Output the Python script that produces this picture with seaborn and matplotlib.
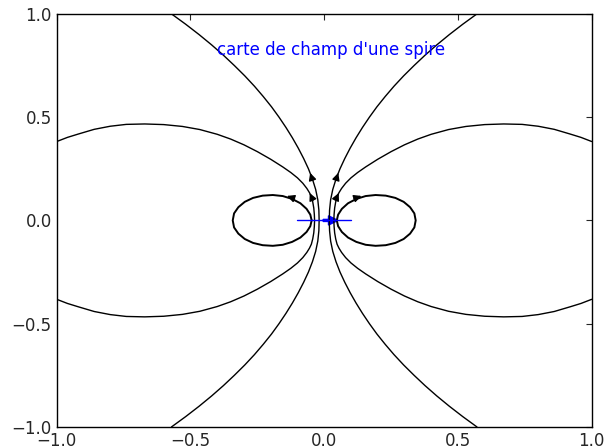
import numpy as np
import pandas as pd
import matplotlib
matplotlib.use("Agg")
import matplotlib.pyplot as plt
import seaborn as sns

# quart supérieur gauche de chaque ligne de champ
# ligne ouverte : du centre vers le haut
open_x = [-0.019, -0.020, -0.024, -0.032, -0.044, -0.059, -0.077, -0.097, -0.119, -0.143, -0.169,
          -0.197, -0.228, -0.261, -0.297, -0.336, -0.377, -0.421, -0.468, -0.518, -0.571]
open_y = [0.000, 0.050, 0.100, 0.150, 0.200, 0.250, 0.300, 0.350, 0.400, 0.450, 0.500,
          0.550, 0.600, 0.650, 0.700, 0.750, 0.800, 0.850, 0.900, 0.950, 1.000]

# grande boucle : du centre vers le bord gauche
big_x = [-0.036, -0.037, -0.039, -0.043, -0.048, -0.055, -0.065, -0.080, -0.100, -0.125, -0.155,
         -0.200, -0.250, -0.300, -0.350, -0.400, -0.465, -0.530, -0.600, -0.671, -0.740, -0.800,
         -0.860, -0.920, -0.960, -1.000]
big_y = [0.000, 0.030, 0.060, 0.090, 0.115, 0.134, 0.155, 0.180, 0.206, 0.232, 0.259,
         0.296, 0.333, 0.366, 0.394, 0.417, 0.440, 0.455, 0.464, 0.467, 0.465, 0.456,
         0.441, 0.418, 0.402, 0.382]

# petite boucle autour du fil : moitié haute, de droite à gauche
small_x = [-0.047, -0.052, -0.066, -0.089, -0.120, -0.155, -0.192, -0.230, -0.266, -0.297,
           -0.321, -0.337, -0.342]
small_y = [0.000, 0.028, 0.056, 0.083, 0.104, 0.118, 0.123, 0.120, 0.109, 0.090, 0.064,
           0.034, 0.000]

# flèches côté gauche : position et direction (le côté droit est le miroir)
arrow_x = [-0.048, -0.048, -0.125]
arrow_y = [0.212, 0.115, 0.112]
arrow_dx = [-0.25, -0.35, -1.0]
arrow_dy = [1.0, 1.0, 0.48]

spire_x = [-0.1, 0.1]
spire_y = [0.0, 0.0]

title = "carte de champ d'une spire"


def full_line(xq, yq):
    # moitié basse (symétrique) puis moitié haute
    xq = np.array(xq)
    yq = np.array(yq)
    x = np.concatenate([xq[::-1], xq[1:]])
    y = np.concatenate([-yq[::-1], yq[1:]])
    return x, y


sns.set_style("white")
plt.rcParams['font.family'] = ['DejaVu Sans']
plt.rcParams['font.size'] = 12
plt.rcParams['xtick.direction'] = 'in'
plt.rcParams['ytick.direction'] = 'in'
plt.rcParams['xtick.top'] = True
plt.rcParams['ytick.right'] = True
plt.rcParams['xtick.major.size'] = 4
plt.rcParams['ytick.major.size'] = 4
plt.rcParams['xtick.labelsize'] = 12
plt.rcParams['ytick.labelsize'] = 12

fig, ax = plt.subplots(figsize=(6.1, 4.48), dpi=100)
fig.subplots_adjust(left=0.093, right=0.970, bottom=0.047, top=0.969)

# lignes ouvertes et grandes boucles, à gauche et à droite
for xq, yq in [(open_x, open_y), (big_x, big_y)]:
    x, y = full_line(xq, yq)
    for s in [1, -1]:
        df = pd.DataFrame({'x': s * x, 'y': y})
        sns.lineplot(data=df, x='x', y='y', sort=False, estimator=None, color='k', lw=1, ax=ax)

# petites boucles fermées
xs, ys = np.array(small_x), np.array(small_y)
loop_x = np.concatenate([xs, xs[::-1][1:]])
loop_y = np.concatenate([ys, -ys[::-1][1:]])
for s in [1, -1]:
    df = pd.DataFrame({'x': s * loop_x, 'y': loop_y})
    sns.lineplot(data=df, x='x', y='y', sort=False, estimator=None, color='k', lw=1.4, ax=ax)

# flèches noires (longueur fixée en pixels)
sx, sy = 267.5, 206.5
for px, py, dx, dy in zip(arrow_x, arrow_y, arrow_dx, arrow_dy):
    for s in [1, -1]:
        vx, vy = s * dx * sx, dy * sy
        n = np.hypot(vx, vy)
        ox, oy = 4 * vx / n / sx, 4 * vy / n / sy
        ax.annotate('', xy=(s * px + ox, py + oy), xytext=(s * px - ox, py - oy),
                    arrowprops=dict(arrowstyle='-|>', color='k', lw=1, mutation_scale=11,
                                    shrinkA=0, shrinkB=0))

# la spire et son moment
sns.lineplot(x=spire_x, y=spire_y, color='b', lw=1, ax=ax)
ax.arrow(-0.004, 0, 0.02, 0, width=0.01, head_width=0.045, head_length=0.035,
         fc='b', ec='b', length_includes_head=False)

ax.text(-0.4, 0.8, title, color='b', fontsize=12)

ax.set_xlim(-1, 1)
ax.set_ylim(-1, 1)
ax.set_xticks([-1.0, -0.5, 0.0, 0.5, 1.0])
ax.set_yticks([-1.0, -0.5, 0.0, 0.5, 1.0])
ax.set_xlabel('')
ax.set_ylabel('')
for sp in ax.spines.values():
    sp.set_color('k')
    sp.set_linewidth(1)

fig.savefig('out.png', dpi=100)
